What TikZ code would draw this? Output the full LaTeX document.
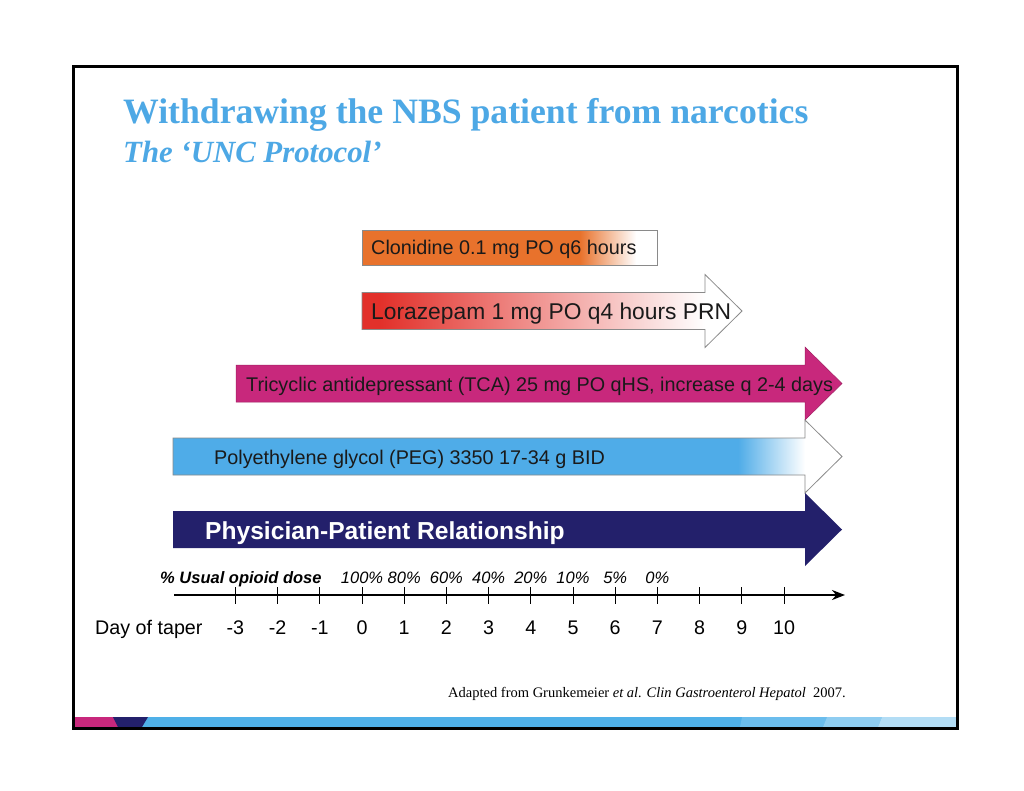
\documentclass[tikz,border=0pt]{standalone}
\usepackage{fontspec}
\setmainfont{Liberation Serif}
\setsansfont{Liberation Sans}
\usetikzlibrary{arrows.meta}
\definecolor{titleblue}{HTML}{4DA8E5}
\definecolor{cloorange}{HTML}{E8722C}
\definecolor{lorred}{HTML}{E2302A}
\definecolor{tcamag}{HTML}{C8287C}
\definecolor{pegblue}{HTML}{4FACE8}
\definecolor{navy}{HTML}{23206B}
\definecolor{outl}{HTML}{8A8A8A}
\definecolor{txt}{HTML}{1A1A1A}
\definecolor{barblue}{HTML}{4FB0E8}
\definecolor{barblueb}{HTML}{6BBDED}
\definecolor{barbluec}{HTML}{8FCDF1}
\definecolor{barblued}{HTML}{B3DDF5}
% arrow outline: #1 left x, #2 centre y, #3 head base x, #4 tip x
\newcommand{\arrowpath}[4]{(#1,#2-18.5) -- (#3,#2-18.5) -- (#3,#2-36.5) -- (#4,#2) -- (#3,#2+36.5) -- (#3,#2+18.5) -- (#1,#2+18.5) -- cycle}
\tikzset{
  armtext/.style={anchor=base west, inner sep=0pt, text=txt, font=\sffamily\fontsize{19.8}{22}\selectfont},
  outline/.style={draw=outl, line width=0.8pt},
  ticklabel/.style={anchor=base, inner sep=0pt, font=\sffamily\fontsize{19.7}{22}\selectfont},
  pctlabel/.style={anchor=base, inner sep=0pt, font=\sffamily\itshape\fontsize{16.5}{18}\selectfont},
}
\begin{document}
\begin{tikzpicture}[x=1pt,y=-1pt]
\useasboundingbox[fill=white] (0,0) rectangle (1024,790);

% title
\node[anchor=base west, inner sep=0pt, text=titleblue, font=\bfseries\fontsize{35.7}{40}\selectfont] (title) at (123,123) {Withdrawing the NBS patient from narcotics};
\node[anchor=base west, inner sep=0pt, text=titleblue, font=\bfseries\itshape\fontsize{30.8}{34}\selectfont] (subtitle) at (123,162) {The ‘UNC Protocol’};

% Clonidine
\begin{scope}
\clip (362,230) rectangle (657,265);
\fill[cloorange] (362,230) rectangle (580,265);
\shade[left color=cloorange, right color=white] (580,230) rectangle (636,265);
\end{scope}
\draw[outline] (362,230) rectangle (657,265);
\node[armtext] (clo) at (371,254) {Clonidine 0.1 mg PO q6 hours};

% Lorazepam
\begin{scope}
\clip \arrowpath{362}{311}{705}{742};
\fill[lorred] (362,270) rectangle (380,350);
\shade[left color=lorred, right color=white] (380,270) rectangle (705,350);
\end{scope}
\draw[outline] \arrowpath{362}{311}{705}{742};
\node[armtext, font=\sffamily\fontsize{22.8}{25}\selectfont] (lor) at (371,319) {Lorazepam 1 mg PO q4 hours PRN};

% TCA
\fill[tcamag] \arrowpath{236}{383.5}{805}{842};
\draw[outline, draw=tcamag!80!black, line width=0.5pt] \arrowpath{236}{383.5}{805}{842};
\node[armtext] (tca) at (246,391) {Tricyclic antidepressant (TCA) 25 mg PO qHS, increase q 2-4 days};

% PEG
\begin{scope}
\clip \arrowpath{173}{456.5}{805}{842};
\fill[white] (173,415) rectangle (845,500);
\fill[pegblue] (173,415) rectangle (738,500);
\shade[left color=pegblue, right color=white] (738,415) rectangle (805,500);
\end{scope}
\draw[outline] \arrowpath{173}{456.5}{805}{842};
\node[armtext] (peg) at (214,464) {Polyethylene glycol (PEG) 3350 17-34 g BID};

% Physician
\fill[navy] \arrowpath{173}{529.5}{805}{842};
\node[armtext, text=white, font=\sffamily\bfseries\fontsize{24.6}{27}\selectfont] (phys) at (205,539) {Physician-Patient Relationship};

% dose row
\node[anchor=base west, inner sep=0pt, font=\sffamily\bfseries\itshape\fontsize{16.5}{18}\selectfont] (dose) at (160,583) {\% Usual opioid dose};
\foreach \k/\p in {0/100,1/80,2/60,3/40,4/20,5/10,6/5,7/0}{
  \node[pctlabel] (p\k) at ({362+42.2*\k},583) {\p\%};
}

% axis
\coordinate (axL) at (174,595);
\coordinate (axR) at (845,595);
\draw[line width=2.4pt, -{Stealth[length=13pt,width=10pt]}] (axL) -- (axR);
\foreach \k in {-3,...,10}{
  \coordinate (t\k) at ({362+42.2*\k},595);
  \draw[line width=0.9pt] (t\k) ++(0,-8) -- ++(0,17);
  \node[ticklabel] (d\k) at ({362+42.2*\k},634) {\k};
}
\node[anchor=base west, inner sep=0pt, font=\sffamily\fontsize{19.7}{22}\selectfont] (day) at (95,634) {Day of taper};

% footer
\node[anchor=base west, inner sep=0pt, font=\fontsize{14.5}{16}\selectfont] (foot) at (448,697) {Adapted from Grunkemeier \textit{et al. Clin Gastroenterol Hepatol}\ \ 2007.};

% bottom bar
\fill[barblue] (74,717) rectangle (957,727);
\fill[barblueb] (742,717) -- (827,717) -- (823,727) -- (740,727) -- cycle;
\fill[barbluec] (827,717) -- (882,717) -- (878,727) -- (823,727) -- cycle;
\fill[barblued] (882,717) -- (957,717) -- (957,727) -- (878,727) -- cycle;
\fill[tcamag] (74,717) rectangle (118,727);
\fill[navy] (113,717) -- (148,717) -- (142,727) -- (118,727) -- cycle;

% frame
\draw[line width=3pt] (73.5,66.5) rectangle (957.5,728.5);
\end{tikzpicture}
\end{document}
